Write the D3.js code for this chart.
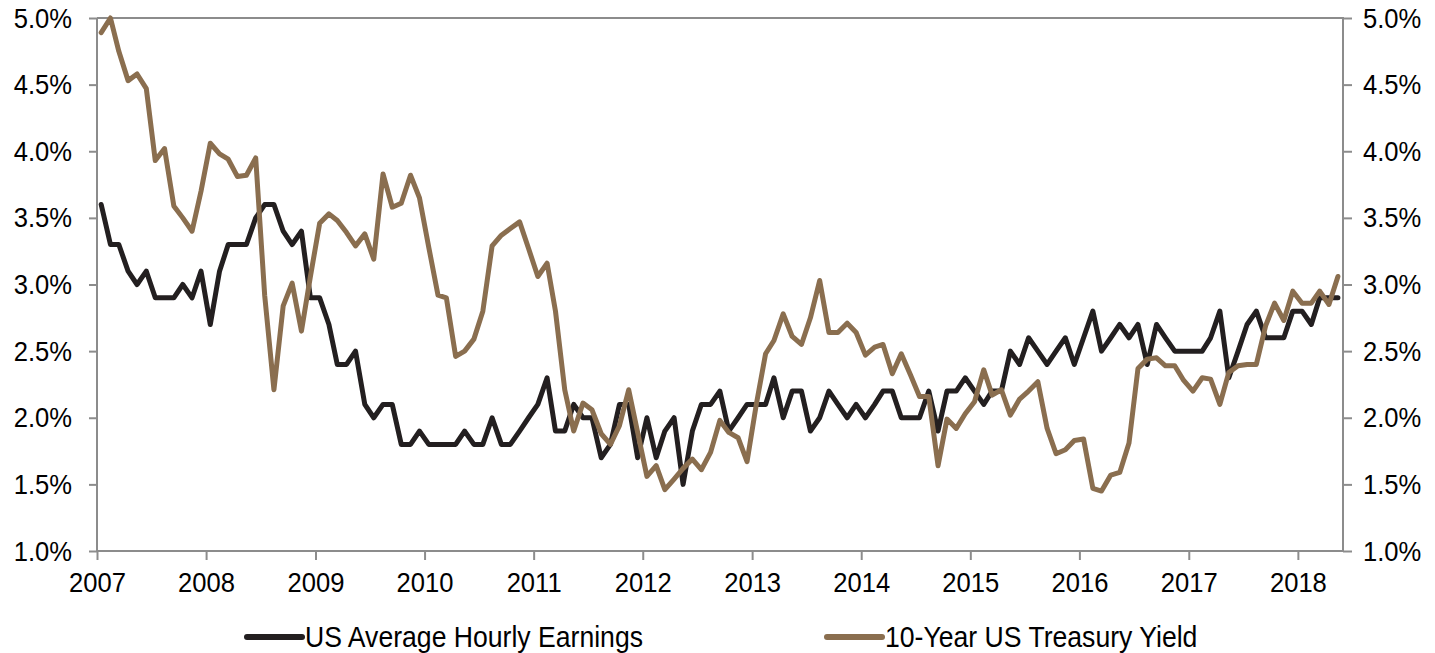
<!DOCTYPE html>
<html>
<head>
<meta charset="utf-8">
<script src="https://cdn.jsdelivr.net/npm/d3@7"></script>
<style>
  body { margin: 0; background: #fff; }
  svg { display: block; font-family: "Liberation Sans", Arial, sans-serif; }
</style>
</head>
<body>
<div id="chart"></div>
<script>
// monthly series, Jan 2007 .. May 2018
const START_MONTH = '2007-01';
const N_MONTHS = 137;

const earnings = [
  3.6,3.3,3.3,3.1,3.0,3.1,2.9,2.9,2.9,3.0,2.9,3.1,
  2.7,3.1,3.3,3.3,3.3,3.5,3.6,3.6,3.4,3.3,3.4,2.9,
  2.9,2.7,2.4,2.4,2.5,2.1,2.0,2.1,2.1,1.8,1.8,1.9,
  1.8,1.8,1.8,1.8,1.9,1.8,1.8,2.0,1.8,1.8,1.9,2.0,
  2.1,2.3,1.9,1.9,2.1,2.0,2.0,1.7,1.8,2.1,2.1,1.7,
  2.0,1.7,1.9,2.0,1.5,1.9,2.1,2.1,2.2,1.9,2.0,2.1,
  2.1,2.1,2.3,2.0,2.2,2.2,1.9,2.0,2.2,2.1,2.0,2.1,
  2.0,2.1,2.2,2.2,2.0,2.0,2.0,2.2,1.9,2.2,2.2,2.3,
  2.2,2.1,2.2,2.2,2.5,2.4,2.6,2.5,2.4,2.5,2.6,2.4,
  2.6,2.8,2.5,2.6,2.7,2.6,2.7,2.4,2.7,2.6,2.5,2.5,
  2.5,2.5,2.6,2.8,2.3,2.5,2.7,2.8,2.6,2.6,2.6,2.8,
  2.8,2.7,2.9,2.9,2.9
];

const treasury = [
  4.89,5.00,4.75,4.53,4.58,4.47,3.93,4.02,3.59,3.50,3.40,3.70,
  4.06,3.98,3.94,3.81,3.82,3.95,2.92,2.21,2.84,3.01,2.65,3.06,
  3.46,3.53,3.48,3.39,3.29,3.38,3.19,3.83,3.58,3.61,3.82,3.65,
  3.28,2.92,2.90,2.46,2.50,2.59,2.80,3.29,3.37,3.42,3.47,3.27,
  3.06,3.16,2.80,2.21,1.90,2.11,2.06,1.88,1.80,1.94,2.21,1.89,
  1.56,1.64,1.46,1.54,1.62,1.69,1.61,1.74,1.98,1.89,1.85,1.67,
  2.10,2.48,2.58,2.78,2.61,2.55,2.75,3.03,2.64,2.64,2.71,2.64,
  2.47,2.53,2.55,2.33,2.48,2.32,2.16,2.16,1.64,1.99,1.92,2.03,
  2.12,2.36,2.17,2.21,2.02,2.14,2.20,2.27,1.92,1.73,1.76,1.83,
  1.84,1.47,1.45,1.57,1.59,1.81,2.37,2.44,2.45,2.39,2.39,2.28,
  2.20,2.30,2.29,2.10,2.34,2.39,2.40,2.40,2.69,2.86,2.73,2.95,
  2.86,2.86,2.95,2.85,3.06
];

const yTicks = [1.0,1.5,2.0,2.5,3.0,3.5,4.0,4.5,5.0];
const xTickYears = [2007,2008,2009,2010,2011,2012,2013,2014,2015,2016,2017,2018];
const seriesNames = ['US Average Hourly Earnings', '10-Year US Treasury Yield'];
const seriesColors = ['#231f20', '#8a6e4f'];

const W = 1435, H = 653;
const PLOT = {left: 97, right: 1343, top: 18, bottom: 551};
const AXIS_COLOR = '#8c8c8c';
const TEXT_STRETCH = 1.1;   // source image text is a bit taller than wide

const parseMonth = d3.timeParse('%Y-%m');
const months = d3.range(N_MONTHS).map(i => {
    const d = d3.timeMonth.offset(parseMonth(START_MONTH), i);
    return new Date(d.getFullYear(), d.getMonth(), 15);   // points sit mid-month
});

const xScale = d3.scaleTime()
    .domain([parseMonth(START_MONTH), d3.timeMonth.offset(parseMonth(START_MONTH), N_MONTHS)])
    .range([PLOT.left, PLOT.right]);
const yScale = d3.scaleLinear()
    .domain([1, 5])
    .range([PLOT.bottom, PLOT.top]);

const svg = d3.select('#chart').append('svg')
    .attr('width', W)
    .attr('height', H);

function styleAxis(g){
    g.select('.domain').remove();
    g.selectAll('.tick line').attr('stroke', AXIS_COLOR).attr('stroke-width', 2);
    g.selectAll('.tick text')
        .attr('fill', '#000')
        .style('font-size', '25.6px')
        .attr('transform', `scale(1,${TEXT_STRETCH})`);
}

// y axes left/right
svg.append('g')
    .attr('transform', `translate(${PLOT.left},0)`)
    .call(d3.axisLeft(yScale).tickValues(yTicks).tickSize(8).tickPadding(17)
        .tickFormat(d => d.toFixed(1) + '%'))
    .call(styleAxis);
svg.append('g')
    .attr('transform', `translate(${PLOT.right},0)`)
    .call(d3.axisRight(yScale).tickValues(yTicks).tickSize(9).tickPadding(11)
        .tickFormat(d => d.toFixed(1) + '%'))
    .call(styleAxis);

// x axis
svg.append('g')
    .attr('transform', `translate(0,${PLOT.bottom})`)
    .call(d3.axisBottom(xScale)
        .tickValues(xTickYears.map(y => new Date(y, 0, 1)))
        .tickSize(9)
        .tickFormat(d3.timeFormat('%Y')))
    .call(styleAxis)
    .call(g => g.selectAll('.tick text').attr('y', 19));

// frame: left, right, bottom, top
const frame = svg.append('g')
    .attr('stroke', AXIS_COLOR)
    .attr('stroke-width', 2)
    .attr('fill', 'none');
frame.append('path')
    .attr('d', `M${PLOT.left},${PLOT.top}V${PLOT.bottom}H${PLOT.right}V${PLOT.top}H${PLOT.left}`);

// lines
const line = d3.line()
    .x((d, i) => xScale(months[i]))
    .y(d => yScale(d));

[earnings, treasury].forEach((series, k) => {
    svg.append('path')
        .datum(series)
        .attr('fill', 'none')
        .attr('stroke', seriesColors[k])
        .attr('stroke-width', 5)
        .attr('stroke-linejoin', 'round')
        .attr('stroke-linecap', 'round')
        .attr('d', line);
});

// legend
const legendX = [247, 827];
const legend = svg.append('g');
seriesNames.forEach((name, k) => {
    legend.append('line')
        .attr('x1', legendX[k]).attr('x2', legendX[k] + 55)
        .attr('y1', 637).attr('y2', 637)
        .attr('stroke', seriesColors[k])
        .attr('stroke-width', 6)
        .attr('stroke-linecap', 'round');
    legend.append('text')
        .attr('transform', `translate(${legendX[k] + 58},647) scale(1,${TEXT_STRETCH})`)
        .style('font-size', '26.6px')
        .attr('fill', '#000')
        .text(name);
});
</script>
</body>
</html>
